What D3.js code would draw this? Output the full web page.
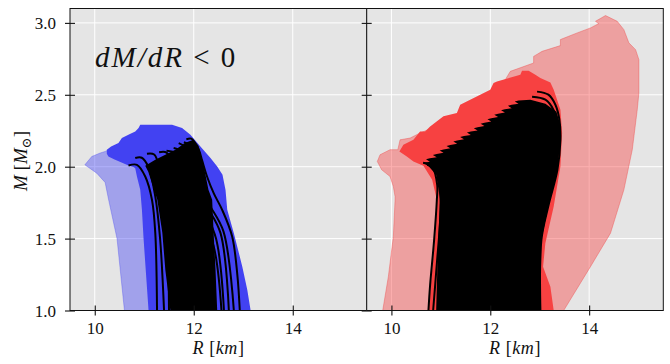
<!DOCTYPE html>
<html>
<head>
<meta charset="utf-8">
<script src="https://cdn.jsdelivr.net/npm/d3@7/dist/d3.min.js"></script>
<style>
  html, body { margin: 0; padding: 0; background: #fff; }
  svg { display: block; }
  text { font-family: "Liberation Serif", "DejaVu Serif", serif; fill: #111; }
</style>
</head>
<body>
<svg id="chart" width="670" height="364"></svg>
<script>
// ---------------- data ----------------
const xTicks = [10, 12, 14];
const yTicks = [1.0, 1.5, 2.0, 2.5, 3.0];
const yTickLabels = ["1.0", "1.5", "2.0", "2.5", "3.0"];
const xDomain = [9.5, 15.5];
const yDomain = [1.0, 3.1];

// left panel (dM/dR < 0): outer band (light), inner band (dark), black envelope, curves  [R km, M Msun]
const blueOuter = [[10.60,1.0],[10.45,1.5],[10.28,1.77],[10.21,1.89],[10.04,1.955],[9.80,2.013],[9.94,2.071],
  [10.11,2.095],[10.21,2.106],[10.30,2.12],[10.70,2.15],[11.10,2.10],[11.30,1.80],[11.40,1.0]];
const blueInner = [[11.087,1.0],[10.986,1.5],[10.953,1.70],[10.919,1.839],[10.852,1.932],[10.818,1.99],
  [10.783,1.998],[10.682,2.008],[10.40,2.05],[10.276,2.071],[10.244,2.09],[10.244,2.118],[10.33,2.14],
  [10.479,2.164],[10.548,2.199],[10.70,2.225],[10.818,2.245],[10.852,2.257],[10.885,2.269],[10.919,2.292],
  [11.562,2.292],[11.764,2.269],[11.933,2.222],[12.135,2.141],[12.338,2.06],[12.474,2.001],[12.581,1.944],
  [12.642,1.838],[12.677,1.70],[12.81,1.538],[12.981,1.305],[13.082,1.143],[13.149,1.0]];
const blueCore = [[11.527,1.0],[11.426,1.282],[11.365,1.54],[11.264,1.77],[11.081,1.965],[11.02,2.006],
  [11.223,2.048],[11.426,2.083],[11.628,2.118],[11.831,2.167],[11.993,2.188],[12.095,2.146],[12.196,2.013],
  [12.297,1.839],[12.372,1.77],[12.405,1.514],[12.44,1.282],[12.474,1.0]];
const blueCurves = [
  [[10.682,2.008],[10.852,2.013],[11.02,1.932],[11.156,1.77],[11.223,1.538],[11.258,1.0]],
  [[10.818,2.06],[10.95,2.062],[11.08,2.0],[11.22,1.80],[11.32,1.50],[11.40,1.0]],
  [[11.055,2.09],[11.20,2.085],[11.30,2.0],[11.40,1.80],[11.47,1.50],[11.50,1.0]],
  [[11.30,2.10],[11.45,2.098],[11.60,2.0],[11.75,1.80],[11.85,1.50],[11.90,1.0]],
  [[11.45,2.11],[11.65,2.09],[11.85,1.95],[12.10,1.70],[12.40,1.45],[12.56,1.0]],
  [[11.594,2.13],[11.80,2.10],[11.95,1.98],[12.15,1.75],[12.45,1.50],[12.61,1.0]],
  [[11.696,2.164],[11.90,2.118],[12.00,2.001],[12.20,1.77],[12.541,1.538],[12.709,1.0]],
  [[11.80,2.17],[11.95,2.14],[12.05,2.02],[12.25,1.78],[12.60,1.55],[12.81,1.0]],
  [[11.85,2.19],[11.95,2.195],[12.10,2.12],[12.17,2.042],[12.27,1.93],[12.405,1.814],[12.574,1.70],[12.776,1.514],[12.88,1.25],[12.93,1.0]]
];

// right panel
const redOuter = [[9.824,1.0],[9.938,1.235],[10.039,1.514],[10.074,1.77],[10.074,1.792],[10.039,1.862],
  [9.972,1.932],[9.804,1.978],[9.715,2.036],[9.77,2.083],[9.972,2.118],[10.13,2.118],[10.175,2.187],
  [10.378,2.199],[10.58,2.234],[10.986,2.292],[11.797,2.466],[12.304,2.605],[12.405,2.663],[12.877,2.721],
  [12.877,2.767],[13.048,2.802],[13.418,2.842],[13.418,2.884],[13.757,2.93],[14.027,2.965],[14.195,2.995],
  [14.128,3.011],[14.331,3.051],[14.568,3.011],[14.702,2.953],[14.803,2.861],[14.939,2.814],[15.006,2.744],
  [15.006,2.513],[14.973,2.396],[14.872,2.118],[14.702,1.839],[14.432,1.538],[14.027,1.305],[13.485,1.0]];
const redInner = [[10.749,1.0],[10.885,1.514],[10.919,1.77],[10.824,1.909],[10.647,2.006],[10.445,2.036],
  [10.311,2.071],[10.161,2.106],[10.242,2.153],[10.445,2.187],[10.58,2.245],[10.682,2.245],[10.783,2.28],
  [11.053,2.35],[11.324,2.373],[11.391,2.431],[11.999,2.535],[12.066,2.582],[12.135,2.593],[12.608,2.64],
  [12.642,2.668],[12.776,2.668],[12.912,2.64],[13.013,2.617],[13.216,2.586],[13.283,2.535],[13.419,2.396],
  [13.453,2.234],[13.419,2.001],[13.283,1.723],[13.114,1.468],[13.068,1.305],[13.216,1.166],[13.283,1.0]];
const redCore = [[10.905,1.0],[10.945,1.491],[10.986,1.77],[10.905,1.944],[10.743,2.006],
  [10.640,2.027],[10.778,2.035],[10.700,2.051],
  [10.778,2.058],[10.916,2.066],[10.838,2.082],
  [10.916,2.089],[11.054,2.097],[10.976,2.113],
  [11.054,2.120],[11.192,2.128],[11.114,2.144],
  [11.192,2.151],[11.330,2.159],[11.252,2.175],
  [11.330,2.182],[11.468,2.190],[11.390,2.206],
  [11.468,2.213],[11.606,2.221],[11.528,2.237],
  [11.606,2.244],[11.744,2.252],[11.666,2.268],
  [11.744,2.275],[11.882,2.283],[11.804,2.299],
  [11.882,2.306],[12.020,2.314],[11.942,2.330],
  [12.020,2.337],[12.158,2.345],[12.080,2.361],
  [12.158,2.368],[12.296,2.376],[12.218,2.392],
  [12.296,2.399],[12.434,2.407],[12.356,2.423],
  [12.434,2.430],[12.572,2.438],[12.494,2.454],
  [12.572,2.461],[12.811,2.466],[13.115,2.438],[13.338,2.382],[13.419,2.292],
  [13.419,2.187],[13.358,1.978],[13.176,1.728],[13.034,1.491],[13.014,1.0]];
const redCurves = [
  [[10.641,2.027],[10.824,1.999],[10.926,1.874],[10.919,1.77],[10.864,1.491],[10.783,1.178],[10.749,1.0]],
  [[10.722,2.013],[10.905,1.978],[10.986,1.839],[10.986,1.63],[10.925,1.352],[10.844,1.0]],
  [[10.803,2.027],[10.986,1.978],[11.067,1.804],[11.047,1.491],[10.986,1.212],[10.945,1.0]],
  [[12.946,2.522],[13.175,2.501],[13.317,2.431],[13.398,2.327],[13.419,2.187],[13.358,1.978],[13.176,1.728],[13.034,1.491],[13.014,1.0]],
  [[12.845,2.487],[13.115,2.466],[13.277,2.396],[13.358,2.292],[13.378,2.152],[13.30,1.95]],
  [[12.608,2.445],[12.912,2.438],[13.175,2.382],[13.317,2.292],[13.358,2.187],[13.30,2.0]]
];

// ---------------- layout ----------------
const svg = d3.select("#chart");
const plotTop = 8.5, plotBottom = 310.5;
const panels = [
  { x0: 70, x1: 367, outer: blueOuter, inner: blueInner, core: blueCore, curves: blueCurves,
    dark: "#4242f2", light: "rgba(66,66,242,0.42)", lightEdge: "rgba(66,66,242,0.42)", yLabels: true },
  { x0: 366.7, x1: 663.3, outer: redOuter, inner: redInner, core: redCore, curves: redCurves,
    dark: "#f74141", light: "rgba(247,65,65,0.42)", lightEdge: "rgba(240,80,80,0.55)", yLabels: false }
];

const y = d3.scaleLinear().domain(yDomain).range([plotBottom, plotTop]);

panels.forEach((p, i) => {
  const x = d3.scaleLinear().domain(xDomain).range([p.x0, p.x1]);
  const g = svg.append("g");
  const clipId = "clip" + i;
  svg.append("clipPath").attr("id", clipId).append("rect")
    .attr("x", p.x0).attr("y", plotTop).attr("width", p.x1 - p.x0).attr("height", plotBottom - plotTop);

  g.append("rect").attr("x", p.x0).attr("y", plotTop).attr("width", p.x1 - p.x0).attr("height", plotBottom - plotTop)
    .attr("fill", "#e5e5e5");

  // grid
  g.selectAll(".gx").data(xTicks).join("line")
    .attr("x1", d => x(d)).attr("x2", d => x(d)).attr("y1", plotTop).attr("y2", plotBottom)
    .attr("stroke", "#fff").attr("stroke-width", 1);
  g.selectAll(".gy").data(yTicks).join("line")
    .attr("x1", p.x0).attr("x2", p.x1).attr("y1", d => y(d)).attr("y2", d => y(d))
    .attr("stroke", "#fff").attr("stroke-width", 1);

  const plot = g.append("g").attr("clip-path", `url(#${clipId})`);
  const poly = d3.line().x(d => x(d[0])).y(d => y(d[1])).curve(d3.curveLinearClosed);
  const curve = d3.line().x(d => x(d[0])).y(d => y(d[1])).curve(d3.curveCatmullRom.alpha(0.5));

  plot.append("path").attr("d", poly(p.outer)).attr("fill", p.light)
    .attr("stroke", p.lightEdge).attr("stroke-width", 0.8);
  plot.append("path").attr("d", poly(p.inner)).attr("fill", p.dark);
  plot.append("path").attr("d", poly(p.core)).attr("fill", "#000");
  plot.selectAll(".c").data(p.curves).join("path")
    .attr("d", d => curve(d)).attr("fill", "none").attr("stroke", "#000").attr("stroke-width", 2);

  // frame
  g.append("rect").attr("x", p.x0).attr("y", plotTop).attr("width", p.x1 - p.x0).attr("height", plotBottom - plotTop)
    .attr("fill", "none").attr("stroke", "#111").attr("stroke-width", 1);

  // x axis (in-out ticks)
  const xa = g.append("g").attr("transform", `translate(0,${plotBottom})`)
    .call(d3.axisBottom(x).tickValues(xTicks).tickSize(5).tickFormat(d3.format("d")));
  xa.select(".domain").remove();
  xa.selectAll(".tick line").attr("y1", -5).attr("y2", 5).attr("stroke", "#111").attr("stroke-width", 1.1);
  xa.selectAll(".tick text").attr("y", 23).attr("dy", 0).attr("font-size", 17)
    .attr("font-family", "Liberation Serif, serif").attr("fill", "#222");

  // y axis
  const ya = g.append("g").attr("transform", `translate(${p.x0},0)`)
    .call(d3.axisLeft(y).tickValues(yTicks).tickSize(5)
      .tickFormat((d, k) => p.yLabels ? yTickLabels[k] : ""));
  ya.select(".domain").remove();
  ya.selectAll(".tick line").attr("x1", -5).attr("x2", 5).attr("stroke", "#111").attr("stroke-width", 1.1);
  ya.selectAll(".tick text").attr("x", -14).attr("dy", "0.35em").attr("font-size", 17)
    .attr("font-family", "Liberation Serif, serif").attr("fill", "#222");

  // x label  R [km]
  const xl = svg.append("text").attr("x", (p.x0 + p.x1) / 2).attr("y", 354)
    .attr("text-anchor", "middle").attr("font-size", 18).attr("letter-spacing", 0.6);
  xl.append("tspan").attr("font-style", "italic").text("R");
  xl.append("tspan").text(" [");
  xl.append("tspan").attr("font-style", "italic").text("km");
  xl.append("tspan").text("]");
});

// y label  M [M⊙]
const ylab = svg.append("text").attr("transform", "translate(27,161) rotate(-90)")
  .attr("text-anchor", "middle").attr("font-size", 19);
ylab.append("tspan").attr("font-style", "italic").text("M");
ylab.append("tspan").text(" [");
ylab.append("tspan").attr("font-style", "italic").text("M");
ylab.append("tspan").attr("font-size", 13).attr("dy", 4).text("⊙");
ylab.append("tspan").attr("dy", -4).text("]");

// annotation
const ann = svg.append("text").attr("x", 95).attr("y", 67).attr("font-size", 29).attr("letter-spacing", 2);
ann.append("tspan").attr("font-style", "italic").text("dM/dR");
ann.append("tspan").text(" < 0");
</script>
</body>
</html>
